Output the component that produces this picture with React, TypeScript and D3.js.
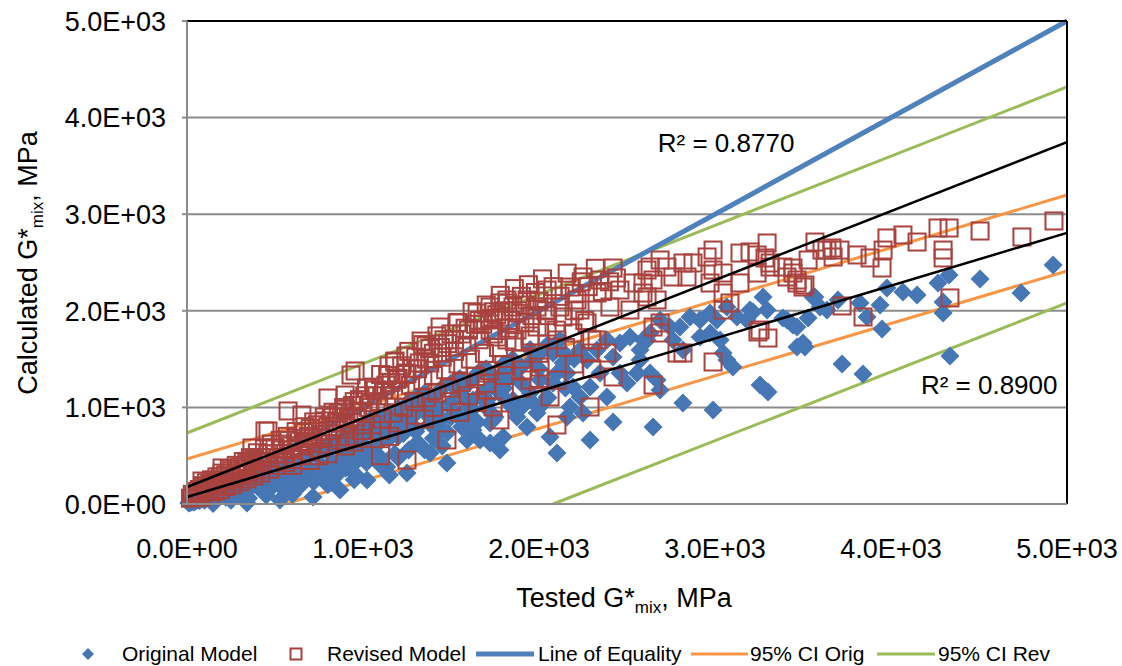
import React from "react";
import * as d3 from "d3";

// ---------- data ----------
const xTicks = [0, 1000, 2000, 3000, 4000, 5000];
const yTicks = [0, 1000, 2000, 3000, 4000, 5000];
const tickLabels = ["0.0E+00", "1.0E+03", "2.0E+03", "3.0E+03", "4.0E+03", "5.0E+03"];

// Original Model: [tested, calculated]
const originalModel: [number, number][] = [
  [4921,2474],[4506,2329],[4739,2184],[4330,2371],[4267,2288],[4296,2091],[4296,1977],[4335,1532],[4148,2164],[4068,2195],
  [3977,2236],[3938,2060],[3949,1812],[3864,1936],[3841,1346],[3722,1449],[3699,2112],[3636,2008],[3568,2143],[3529,1925],
  [3443,1853],[3466,1625],[3511,1625],[3273,2143],[3296,2008],[3216,1988],[3256,1232],[3301,1159],[3386,1925],[3824,2081],
  [3199,2008],[3125,1936],[3068,2039],[3011,1905],[2972,1977],[2915,1905],[2858,1936],[2801,1832],[2744,1832],[2688,1905],
  [2631,1770],[2591,1698],[2761,1698],[2818,1594],[2915,1729],[3029,1698],[3068,1491],[3102,1418],[3046,1563],[2972,1770],
  [3182,1905],[3409,1905],[3466,1832],[3500,1667],[3557,2143],[3597,2039],[2818,1046],[2989,973],[2648,797],[2671,1284],
  [2688,1180],[2631,1356],[2574,1491],
  [2102,528],[2290,663],[2421,849],[2063,694],[1778,559],[1722,631],[1665,663],[1932,797],[1875,901],[1989,942],[1949,1077],
  [2046,1108],[2080,1253],[2159,1356],[2193,1211],[2273,1491],[2330,1594],[2386,1698],[2460,1667],[2517,1729],[2574,1594],
  [2614,1698],[2421,1522],[2347,1356],[2460,1356],[2557,1356],[2500,1253],[2290,1211],[2233,1108],[2176,1004],[2386,1108],
  [2250,942],[2159,901],[2119,1698],[2080,1563],[1966,1491],[1875,1387],[1818,1284],[1778,1149],[1705,1077],[1739,870],
  [1852,1077],[2006,1284],[2136,1460],[2233,1594],
  [1250,321],[1136,383],[1023,248],[1477,424],[1381,528],[1307,631],[1591,663],[1625,766],[1761,631],[1796,694],
  [1722,839],[1608,901],[1511,973],[1438,766],[1250,870],[1193,766],[1114,694],[1040,559],[966,487],[886,383],
  [1364,1077],[1307,1004],[1534,1180],[1625,1077],[1722,1211],[1796,1356],[1193,942],[1040,870],[926,766],[1000,694],
  [869,145],[716,72],[528,41],[341,10],[148,5],
  [50,30],[80,50],[100,40],[120,80],[150,60],[150,100],[180,90],[200,130],[220,70],[250,150],[260,110],[280,180],
  [300,120],[320,200],[350,150],[370,230],[400,180],[400,260],[430,140],[450,300],[460,220],[480,170],[500,330],[520,250],
  [550,200],[560,380],[580,300],[600,240],[620,420],[640,330],[660,280],[680,460],[700,360],[720,230],[740,500],[760,400],
  [780,320],[800,540],[820,440],[840,280],[860,600],[880,480],[900,370],[920,640],[940,520],[960,300],[980,700],[1000,580],
  [1020,430],[1050,750],[1080,620],[1100,480],[1120,800],[1150,680],[1180,520],[1200,860],[1230,730],[1260,560],[1280,900],
  [1300,780],[1320,620],[1350,950],[1380,830],[1400,680],[1420,1000],[1450,880],[1480,740],[1500,1050],[1530,930],[1560,800],
  [1580,1100],[1620,980],[1650,850],[1680,1150],[1700,1000],[1750,900],[1800,1200],[1850,1000],[1900,1250],[1950,1150],
  [2000,1400],[2050,1100],[2100,1350],[2150,1200],
  [10,10],[20,15],[30,25],[40,20],[60,45],[70,35],[90,60],[110,70],[130,55],[140,90],[160,110],[170,75],[190,120],[210,100],
  [230,140],[240,120],
  [1000,800],[1050,850],[1100,880],[1150,930],[1200,990],[1250,1040],[1300,1100],[1350,1150],[1400,1100],[1450,1200],
  [1500,1250],[1550,1300],[1600,1250],[1650,1350],[1700,1400],[1750,1300],[1800,1450],[1850,1500],[1900,1420],[1950,1600],
  [2000,1550],[2050,1650],[2100,1600],[2150,1550],[2200,1500],[900,700],[850,650],[800,620],[750,580],[700,520],[650,480],
  [600,430],[550,400],[500,370],[450,330],[400,300],[350,260],[300,220],[250,180],[200,150],[1100,650],[1200,700],[1300,750],
  [1400,850],[1500,900],[1600,1000],[1700,1050],[1800,1100],[1900,1000],[2000,1000],[1100,400],[1200,480],[1350,560],
  [1450,600],[950,420],[850,330],[750,300],[650,200],[550,150],[450,90],[350,60],[250,40],[600,100],[800,200],[950,250],
  [1150,300],
];

// Revised Model: [tested, calculated]
const revisedModel: [number, number][] = [
  [4926,2930],[4506,2826],[4744,2764],[4330,2857],[4267,2857],[4296,2629],[4296,2547],[4335,2133],[4148,2712],[4068,2785],
  [3977,2754],[3955,2629],[3949,2443],[3881,2547],[3841,1936],[3722,2050],[3807,2578],[3710,2629],[3665,2650],[3608,2629],
  [3568,2712],[3529,2526],[3443,2443],[3466,2288],[3511,2267],[3443,2391],[3296,2702],[3284,2547],[3239,2578],[3313,2453],
  [3301,1718],[3244,1781],[3386,2453],[3671,2557],[3636,2629],
  [3199,2609],[3142,2598],[2989,2629],[2955,2557],[2875,2495],[2818,2495],[2727,2453],[2688,2526],[2614,2422],[2591,2288],
  [2648,2319],[2761,2350],[2841,2350],[2989,2422],[3046,2391],[3142,2288],[3046,2184],[3085,2081],[3046,2008],[2972,2288],
  [3239,2391],[3313,2495],[3466,2319],[3500,2246],[3409,2350],[2688,1874],[2688,1770],[2648,1832],[3256,1801],[2818,1563],
  [2989,1470],[2648,1232],[2671,2112],[2614,2143],[2784,1563],
  [2421,2443],[2631,2453],[2421,1315],[2290,1563],[2386,1563],[2330,1698],[2290,1004],[2102,818],[2063,1108],[1949,1284],
  [1909,1387],[2102,1284],[2006,1418],[1778,870],[1739,1004],[1705,1180],[2176,2246],[2046,2215],[1932,2112],[1852,2039],
  [1778,1936],[1722,1801],[1818,1698],[1949,1698],[2046,1832],[2136,1936],[2216,2112],[2330,2184],[2460,2215],[2534,2288],
  [2591,2184],[2403,2039],[2273,1874],[2193,1770],[2102,1698],[1989,1832],[1875,1801],[1761,1729],[1682,1905],[1722,2039],
  [1818,2112],[1989,2039],[2119,2039],[2233,2008],[2517,2008],[2347,2319],[2250,2350],
  [1778,2081],[1648,1977],[1534,1874],[1438,1832],[1358,1636],[1244,1532],[1148,1429],[932,1335],[898,1128],[801,1097],
  [653,921],[460,756],[369,580],[199,373],[85,238],[1330,1687],[1182,1480],[955,1377],[574,963],[443,756],
  [1477,663],[1250,455],[1100,500],
  [20,60],[30,100],[40,80],[50,130],[60,110],[70,150],[80,70],[90,190],[100,120],[110,220],[120,160],[130,90],[140,250],
  [150,190],[160,130],[170,280],[180,220],[190,150],[200,320],[210,250],[220,180],[240,360],[250,280],[260,200],[280,400],
  [290,320],[300,230],[320,440],[330,360],[340,260],[360,480],[370,400],[380,290],[400,530],[410,440],[420,320],[440,570],
  [450,480],[470,360],[480,620],[500,520],[510,400],[530,660],[540,560],[560,430],[570,700],[590,600],[600,460],[620,750],
  [640,650],[650,500],[670,800],[690,700],[700,540],[720,850],[740,750],[760,580],[780,900],[800,800],[810,620],[830,950],
  [850,850],[870,660],[890,1000],[900,900],[920,700],[950,1060],[970,960],[990,760],[1010,1120],[1030,1000],[1050,820],
  [1070,1180],[1090,1060],[1110,880],[1130,1230],[1150,1120],[1170,940],[1190,1290],[1210,1180],[1230,1000],[1250,1350],
  [1270,1230],[1290,1060],[1310,1400],[1340,1280],[1360,1100],[1380,1460],[1400,1330],[1420,1150],[1450,1520],[1470,1390],
  [1490,1200],[1520,1580],[1540,1450],[1560,1260],[1590,1640],[1610,1500],[1640,1320],[1660,1700],[1690,1560],[1720,1380],
  [1740,1760],[1770,1620],[1800,1440],[1830,1820],[1860,1680],[1900,1500],[1920,1880],[1950,1740],[2000,1560],[2050,1950],
  [2100,1800],[2150,1620],[2200,2000],[2260,1900],[2300,1700],
  [100,170],[130,210],[160,240],[190,280],[220,300],[250,340],[270,260],[300,380],[310,300],[340,420],[350,330],[380,460],
  [390,350],[420,480],[430,400],[460,520],[470,430],[500,580],[520,470],[540,620],[560,520],[580,660],[600,560],[620,680],
  [640,600],[660,740],[680,640],[700,780],[720,680],[740,820],[760,720],[780,860],[800,760],[820,900],[840,800],[860,940],
  [880,840],[900,980],[920,880],[940,1020],[960,900],[980,1080],[1000,960],[1020,1200],[1040,1050],[1060,1210],[1080,1120],
  [1100,1340],[1120,1180],[1140,1330],[1160,1260],[1180,1470],[1200,1300],[1220,1430],[1240,1340],[1260,1580],[1280,1400],
  [1300,1520],[1320,1460],[1340,1650],[1360,1500],[1380,1610],[1400,1560],[1420,1740],[1440,1620],[1460,1700],[1480,1660],
  [1500,1760],[1520,1700],[1540,1880],[1560,1760],[1580,1820],[1600,1800],[1620,1990],[1640,1860],[1660,1900],[1680,1860],
  [1700,2060],[1720,1920],[1740,1990],[1760,1960],[1780,2160],[1800,2000],[1820,2080],[1840,1900],[1860,2230],[1880,2000],
  [1900,2150],[1920,2060],[1940,2270],[1960,1950],[1980,2190],[2000,2100],[2020,2330],[2040,2000],[2080,2250],[2120,2150],
  [2160,2390],[2200,2180],[2240,2300],[2280,2250],[2320,2440],[2360,2200],[2400,2300],[2440,2340],
  [600,400],[700,450],[800,520],[900,600],[1000,680],[1100,760],[1200,840],[1300,920],[1400,1000],[1500,1060],[1600,1120],
  [1700,1250],[1800,1330],[1900,1200],[2000,1300],[2200,1450],[2300,1400],[1650,1050],[1550,950],[1350,880],[1150,700],
  [950,640],[750,500],
];

const lineOfEquality: [number, number][] = [[0, 0], [5000, 5000]];
const ciOrigUpper: [number, number][] = [[0, 466], [5000, 3199]];
const ciOrigLower: [number, number][] = [[557, 0], [5000, 2412]];
const ciRevUpper: [number, number][] = [[0, 735], [5000, 4317]];
const ciRevLower: [number, number][] = [[2080, 0], [5000, 2081]];
const trendRevised: [number, number][] = [[0, 176], [5000, 3746]];
const trendOriginal: [number, number][] = [[0, 72], [5000, 2807]];

const r2Labels = [
  { text: "R² = 0.8770", x: 2675, y: 3640 },
  { text: "R² = 0.8900", x: 4170, y: 1140 },
];

const legendItems = [
  { label: "Original Model", kind: "diamond", x: 88, tx: 122 },
  { label: "Revised Model", kind: "square", x: 296, tx: 327 },
  { label: "Line of Equality", kind: "eq", x: 476, tx: 538 },
  { label: "95% CI Orig", kind: "orig", x: 691, tx: 750 },
  { label: "95% CI Rev", kind: "rev", x: 877, tx: 938 },
];

// ---------- styles ----------
const FONT = "'Liberation Sans', Arial, sans-serif";
const BLUE = "#4677B4";
const EQ_BLUE = "#4F81BD";
const RED = "#A8423F";
const ORANGE = "#F79646";
const GREEN = "#9BBB59";

const L = 187, R = 1067, T = 21, B = 504;

export default function App() {
  const x = d3.scaleLinear().domain([0, 5000]).range([L, R]);
  const y = d3.scaleLinear().domain([0, 5000]).range([B, T]);
  const line = d3.line<[number, number]>().x((d) => x(d[0])).y((d) => y(d[1]));
  const diamond = (cx: number, cy: number, r: number) =>
    `M${cx},${cy - r}L${cx + r},${cy}L${cx},${cy + r}L${cx - r},${cy}Z`;

  return (
    <svg
      width={1122}
      height={666}
      style={{ position: "absolute", left: 0, top: 0, background: "#fff" }}
      fontFamily={FONT}
    >
      <rect x={0} y={0} width={1122} height={666} fill="#fff" />
      {/* gridlines */}
      {yTicks.slice(1, -1).map((t) => (
        <line key={t} x1={L} x2={R} y1={y(t)} y2={y(t)} stroke="#8C8C8C" strokeWidth={2} />
      ))}
      {/* CI and equality lines */}
      <path d={line(ciRevUpper)!} stroke={GREEN} strokeWidth={3} fill="none" />
      <path d={line(ciRevLower)!} stroke={GREEN} strokeWidth={3} fill="none" />
      <path d={line(ciOrigUpper)!} stroke={ORANGE} strokeWidth={3} fill="none" />
      <path d={line(ciOrigLower)!} stroke={ORANGE} strokeWidth={3} fill="none" />
      <path d={line(lineOfEquality)!} stroke={EQ_BLUE} strokeWidth={5} fill="none" />
      {/* original model diamonds */}
      {originalModel.map((d, i) => (
        <path key={"o" + i} d={diamond(x(d[0]), y(d[1]), 9.5)} fill={BLUE} />
      ))}
      {/* revised model squares */}
      {revisedModel.map((d, i) => (
        <rect
          key={"r" + i}
          x={x(d[0]) - 8.5}
          y={y(d[1]) - 8.5}
          width={17}
          height={17}
          fill="none"
          stroke={RED}
          strokeWidth={2}
        />
      ))}
      {/* trend lines */}
      <path d={line(trendRevised)!} stroke="#000" strokeWidth={2.5} fill="none" />
      <path d={line(trendOriginal)!} stroke="#000" strokeWidth={2.5} fill="none" />
      {r2Labels.map((l) => (
        <text key={l.text} x={x(l.x)} y={y(l.y)} fontSize={26} fill="#000">
          {l.text}
        </text>
      ))}
      {/* frame */}
      <line x1={L} x2={R} y1={T} y2={T} stroke="#000" strokeWidth={2} />
      <line x1={R} x2={R} y1={T} y2={B} stroke="#000" strokeWidth={2} />
      <line x1={L} x2={L} y1={T} y2={B} stroke="#8C8C8C" strokeWidth={2} />
      <line x1={L} x2={R} y1={B} y2={B} stroke="#8C8C8C" strokeWidth={2} />
      {yTicks.map((t) => (
        <line key={"yt" + t} x1={L - 5} x2={L} y1={y(t)} y2={y(t)} stroke="#8C8C8C" strokeWidth={2} />
      ))}
      {/* tick labels */}
      {yTicks.map((t, i) => (
        <text key={"yl" + t} x={166} y={y(t)} dy="0.36em" textAnchor="end" fontSize={27} fill="#000">
          {tickLabels[i]}
        </text>
      ))}
      {xTicks.map((t, i) => (
        <text key={"xl" + t} x={x(t)} y={558} textAnchor="middle" fontSize={27} fill="#000">
          {tickLabels[i]}
        </text>
      ))}
      {/* axis titles */}
      <text x={624} y={607} textAnchor="middle" fontSize={27} fill="#000">
        Tested G*<tspan fontSize={17} dy={6}>mix</tspan>
        <tspan dy={-6}>, MPa</tspan>
      </text>
      <text transform="translate(37,263) rotate(-90)" textAnchor="middle" fontSize={27} fill="#000">
        Calculated G*<tspan fontSize={17} dy={6}>mix</tspan>
        <tspan dy={-6}>, MPa</tspan>
      </text>
      {/* legend */}
      {legendItems.map((it) => (
        <g key={it.label}>
          {it.kind === "diamond" && <path d={diamond(it.x, 654, 6)} fill={BLUE} />}
          {it.kind === "square" && (
            <rect x={it.x - 5.5} y={648.5} width={11} height={11} fill="none" stroke={RED} strokeWidth={2} />
          )}
          {it.kind === "eq" && <line x1={it.x} x2={it.x + 58} y1={654} y2={654} stroke={EQ_BLUE} strokeWidth={5} />}
          {it.kind === "orig" && <line x1={it.x} x2={it.x + 57} y1={654} y2={654} stroke={ORANGE} strokeWidth={3} />}
          {it.kind === "rev" && <line x1={it.x} x2={it.x + 58} y1={654} y2={654} stroke={GREEN} strokeWidth={3} />}
          <text x={it.tx} y={661} fontSize={21} fill="#000">
            {it.label}
          </text>
        </g>
      ))}
    </svg>
  );
}
